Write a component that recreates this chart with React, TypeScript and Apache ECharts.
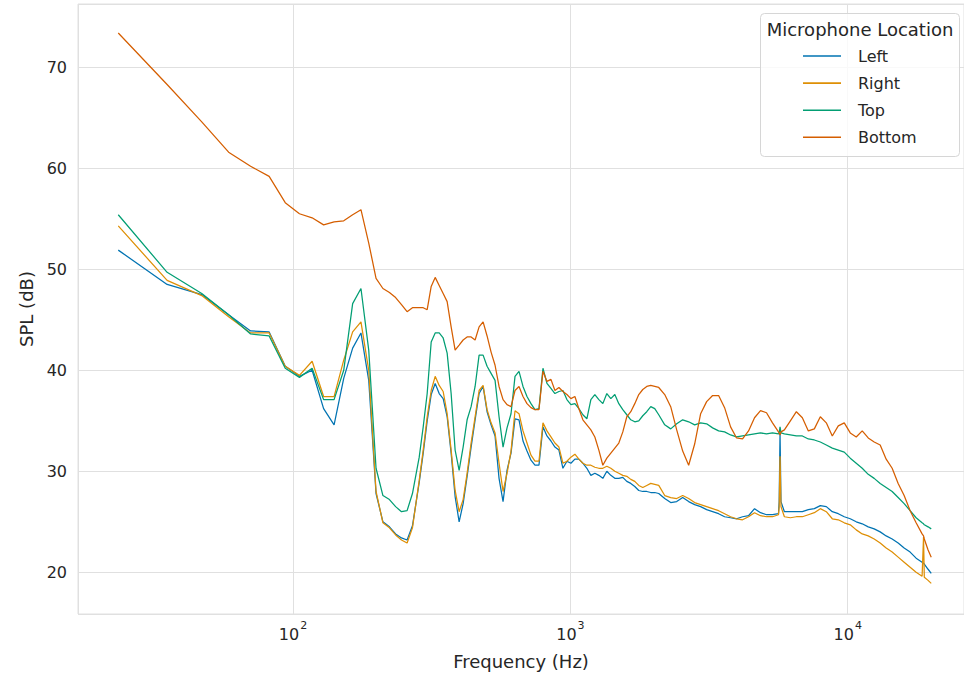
import React, { useEffect, useRef } from "react";
import * as echarts from "echarts";

// FFT bins at low frequency, then a denser read-out of the spectrum above ~285 Hz
const freqHz = [
  23.44, 35.16, 46.88, 58.59, 70.31, 82.03, 93.75, 105.47, 117.19, 128.91, 140.63, 152.34,
  164.06, 175.78, 187.5, 199.22, 210.94, 222.66, 234.38, 246.09, 257.81, 269.53,
  285.1, 294.7, 304.6, 314.9, 325.5, 336.5, 347.8, 359.5, 371.6, 384.1, 397.1,
  410.5, 424.3, 438.6, 453.4, 468.7, 484.5, 500.8, 517.7, 535.1, 553.1,
  571.8, 591.0, 610.9, 631.5, 652.8, 674.8, 697.5, 721.0, 745.3, 770.4,
  796.4, 823.2, 851.0, 879.6, 909.3, 939.9, 971.6, 1004.3, 1038.2, 1073.2,
  1109.3, 1146.7, 1185.4, 1225.3, 1266.6, 1309.3, 1353.4, 1399.0, 1446.2, 1494.9,
  1545.3, 1597.4, 1651.2, 1706.8, 1764.3, 1823.8, 1885.3, 1948.8, 2014.5, 2082.4,
  2188.5, 2300, 2417.2, 2540.4, 2669.8, 2805.9, 2948.9, 3099.2, 3257.1, 3423.1,
  3597.5, 3780.8, 3973.5, 4176, 4388.8, 4612.4, 4847.5, 5094.5, 5354.1, 5627,
  5660, 5700, 5745,
  5910, 6211.2, 6527.7, 6860.4, 7210, 7577.4, 7963.5, 8369.3, 8795.8, 9244, 9715.1, 10210,
  10730, 11277, 11852, 12456, 13090, 13758, 14459, 15196, 15970, 16784, 17639, 18538,
  18760, 18880, 19482, 20000,
];

const leftDb = [
  51.9, 48.5, 47.5, 45.5, 43.9, 43.8, 40.4, 39.4, 40.0, 36.2, 34.6, 39.2,
  42.2, 43.7, 39.0, 27.8, 25.0, 24.5, 23.8, 23.4, 23.2, 24.6,
  28.9, 31.8, 35.0, 37.6, 38.7, 37.7, 37.2, 35.4, 31.8, 27.5, 25.0,
  26.8, 29.5, 32.4, 35.1, 37.7, 38.4, 35.9, 34.6, 33.5, 29.3,
  27.0, 30.1, 31.8, 35.2, 35.1, 33.0, 32.0, 31.1, 30.6, 30.6,
  34.4, 33.5, 33.0, 32.4, 32.1, 30.3, 31.0, 30.8, 31.2, 31.2,
  30.8, 30.3, 29.6, 29.8, 29.6, 29.3, 30.0, 29.6, 29.3, 29.3,
  29.4, 29.0, 28.8, 28.5, 28.1, 28.0, 28.0, 27.9, 27.9, 27.8,
  27.3, 26.9, 27.0, 27.4, 27.0, 26.7, 26.5, 26.2, 26.0, 25.8,
  25.5, 25.4, 25.3, 25.5, 25.6, 26.3, 25.9, 25.7, 25.7, 25.8,
  27.0, 33.8, 27.0,
  26.0, 26.0, 26.0, 26.0, 26.2, 26.3, 26.6, 26.5, 26.0, 25.8, 25.5, 25.3,
  25.0, 24.8, 24.5, 24.3, 24.0, 23.6, 23.3, 22.9, 22.4, 22.0, 21.4, 21.0,
  20.9, 20.8, 20.3, 19.9,
];

const rightDb = [
  54.3, 48.9, 47.4, 45.3, 43.7, 43.7, 40.4, 39.5, 40.9, 37.4, 37.4, 41.0,
  43.8, 44.8, 40.0, 28.0, 24.9, 24.4, 23.7, 23.2, 22.9, 24.4,
  29.1, 32.1, 35.4, 38.0, 39.4, 38.5, 37.9, 35.7, 32.1, 28.1, 26.0,
  27.2, 29.8, 32.8, 35.4, 38.0, 38.5, 36.1, 34.8, 33.8, 30.8,
  28.0, 29.8, 32.0, 36.0, 35.7, 34.0, 32.8, 31.6, 31.0, 31.0,
  34.8, 34.0, 33.4, 32.8, 32.4, 30.8, 31.0, 31.4, 31.7, 31.2,
  30.8, 30.6, 30.6, 30.4, 30.3, 30.3, 30.5, 30.3, 30.0, 29.8,
  29.6, 29.5, 29.2, 29.0, 28.6, 28.4, 28.6, 28.8, 28.7, 28.6,
  27.6, 27.4, 27.3, 27.6, 27.3, 26.9, 26.7, 26.5, 26.3, 26.1,
  25.8, 25.5, 25.3, 25.2, 25.5, 25.9, 25.6, 25.5, 25.5, 25.7,
  26.5, 31.5, 26.5,
  25.5, 25.4, 25.5, 25.5, 25.7, 25.9, 26.3, 26.0, 25.3, 25.2, 24.9, 24.7,
  24.2, 23.8, 23.6, 23.3, 22.9, 22.4, 22.0, 21.5, 21.0, 20.5, 20.0, 19.6,
  23.5, 19.5, 19.2, 18.9,
];

const topDb = [
  55.4, 49.7, 47.6, 45.5, 43.6, 43.4, 40.2, 39.3, 40.2, 37.1, 37.1, 40.0,
  46.6, 48.1, 42.0, 30.3, 27.6, 27.2, 26.5, 26.0, 26.1, 27.8,
  31.4, 34.4, 37.7, 42.8, 43.7, 43.7, 43.2, 41.7, 37.7, 32.1, 30.1,
  32.4, 35.1, 36.4, 38.4, 41.5, 41.5, 40.4, 39.7, 39.0, 35.4,
  32.4, 34.3, 35.7, 39.4, 39.9, 38.4, 37.4, 36.7, 36.1, 36.2,
  40.2, 38.7, 38.2, 37.7, 37.9, 38.0, 37.1, 36.6, 36.7, 36.2,
  35.6, 35.2, 37.1, 37.6, 37.1, 36.7, 37.7, 37.2, 37.6, 36.7,
  36.1, 35.6, 35.1, 34.9, 35.0, 35.5, 35.9, 36.4, 36.2, 35.6,
  34.6, 34.2, 34.7, 35.1, 34.9, 34.6, 34.8, 34.7, 34.3, 34.0,
  33.9, 33.6, 33.4, 33.5, 33.6, 33.7, 33.8, 33.7, 33.8, 33.7,
  33.8, 34.4, 33.8,
  33.7, 33.6, 33.5, 33.5, 33.2, 33.1, 32.9, 32.6, 32.3, 32.1, 31.9, 31.3,
  30.8, 30.3, 29.7, 29.3, 28.8, 28.4, 28.0, 27.4, 26.8, 26.1, 25.4, 24.9,
  24.8, 24.7, 24.5, 24.3,
];

const bottomDb = [
  73.4, 68.3, 64.6, 61.6, 60.2, 59.2, 56.6, 55.5, 55.1, 54.4, 54.7, 54.8,
  55.4, 55.9, 52.6, 49.1, 48.1, 47.7, 47.2, 46.5, 45.8, 46.2,
  46.2, 46.2, 46.0, 48.3, 49.2, 48.4, 47.6, 46.8, 44.3, 42.0, 42.5,
  43.0, 43.3, 43.3, 43.0, 44.3, 44.8, 43.4, 41.8, 40.5, 38.4,
  37.1, 36.6, 36.4, 38.0, 38.4, 37.4, 36.7, 36.3, 36.1, 36.1,
  39.9, 38.9, 39.1, 38.0, 38.3, 37.9, 37.6, 37.2, 37.4, 36.2,
  35.1, 34.6, 34.1, 33.4, 32.1, 30.6, 31.3, 31.8, 32.3, 32.8,
  33.9, 35.4, 35.9, 36.7, 37.6, 38.1, 38.4, 38.5, 38.4, 38.3,
  37.6, 36.4, 34.1, 32.0, 30.6, 32.7, 35.7, 36.9, 37.5, 37.5,
  36.3, 34.4, 33.3, 33.2, 34.0, 35.3, 36.0, 35.8, 34.8, 33.9,
  33.8, 33.6, 33.9,
  34.1, 35.0, 35.9, 35.3, 34.0, 34.2, 35.4, 34.8, 33.5, 34.5, 34.8, 33.8,
  33.4, 34.0, 33.3, 32.9, 32.6, 31.2, 30.3, 28.8, 27.6, 26.1, 24.9, 23.8,
  23.6, 23.3, 22.2, 21.5,
];

const locations = ["Left", "Right", "Top", "Bottom"];
const locationDb = [leftDb, rightDb, topDb, bottomDb];
const palette = ["#0173B2", "#DE8F05", "#029E73", "#D55E00"];

const FONT = "DejaVu Sans";
const INK = "#262626";
const GRID_GRAY = "#e0e0e0";

function decadeLabel(v: number): string {
  const e = Math.log10(v);
  const r = Math.round(e);
  if (Math.abs(e - r) > 1e-6) return "";
  return `{b|10}{s|${r}}`;
}

export default function App() {
  const ref = useRef<HTMLDivElement>(null);

  useEffect(() => {
    if (!ref.current) return;
    const chart = echarts.init(ref.current, undefined, { renderer: "svg" });

    const series = locations.map((name, i) => ({
      name,
      type: "line" as const,
      data: freqHz.map((f, j) => [f, locationDb[i][j]]),
      showSymbol: false,
      symbol: "none",
      clip: true,
      lineStyle: { width: 1.25, color: palette[i] },
      itemStyle: { color: palette[i] },
      emphasis: { disabled: true },
    }));

    chart.setOption({
      animation: false,
      backgroundColor: "#ffffff",
      textStyle: { fontFamily: FONT },
      grid: {
        left: 78,
        right: -2,
        top: 4,
        bottom: 63,
        show: true,
        borderColor: GRID_GRAY,
        borderWidth: 1,
        containLabel: false,
      },
      xAxis: {
        type: "log",
        logBase: 10,
        min: 16.78,
        max: 26250,
        name: "Frequency (Hz)",
        nameLocation: "middle",
        nameGap: 38,
        nameTextStyle: { fontSize: 18, color: INK, fontFamily: FONT },
        axisLine: { show: false },
        axisTick: { show: false },
        splitLine: { show: true, lineStyle: { color: GRID_GRAY, width: 1 } },
        minorSplitLine: { show: false },
        axisLabel: {
          showMinLabel: false,
          showMaxLabel: false,
          margin: 12,
          color: INK,
          formatter: decadeLabel,
          rich: {
            b: { fontSize: 16, lineHeight: 16, verticalAlign: "bottom", color: INK, fontFamily: FONT },
            s: {
              fontSize: 11,
              lineHeight: 11,
              verticalAlign: "bottom",
              padding: [0, 0, 11, 1],
              color: INK,
              fontFamily: FONT,
            },
          },
        },
      },
      yAxis: {
        type: "value",
        min: 15.87,
        max: 76.27,
        name: "SPL (dB)",
        nameLocation: "middle",
        nameGap: 34,
        nameTextStyle: { fontSize: 18, color: INK, fontFamily: FONT },
        axisLine: { show: false },
        axisTick: { show: false },
        splitLine: { show: true, lineStyle: { color: GRID_GRAY, width: 1 } },
        axisLabel: {
          showMinLabel: false,
          showMaxLabel: false,
          margin: 11,
          fontSize: 16,
          color: INK,
          fontFamily: FONT,
        },
      },
      legend: {
        data: locations,
        orient: "vertical",
        left: 803,
        top: 46,
        padding: 0,
        icon: "rect",
        itemWidth: 38,
        itemHeight: 1.6,
        itemGap: 7.1,
        z: 10,
        selectedMode: false,
        textStyle: {
          fontSize: 16,
          lineHeight: 20,
          color: INK,
          fontFamily: FONT,
          padding: [0, 0, 0, 12],
        },
      },
      graphic: [
        {
          type: "rect",
          z: 8,
          shape: { x: 760.5, y: 13.5, width: 199, height: 143, r: 4 },
          style: { fill: "rgba(255,255,255,0.8)", stroke: "#d6d6d6", lineWidth: 1 },
        },
        {
          type: "text",
          z: 9,
          x: 860,
          y: 29.5,
          style: {
            text: "Microphone Location",
            fontSize: 18,
            fontFamily: FONT,
            fill: INK,
            align: "center",
            verticalAlign: "middle",
          },
        },
      ],
      series,
    });

    return () => chart.dispose();
  }, []);

  return (
    <div
      ref={ref}
      style={{ position: "fixed", left: 0, top: 0, width: 964, height: 677, background: "#fff" }}
    />
  );
}
